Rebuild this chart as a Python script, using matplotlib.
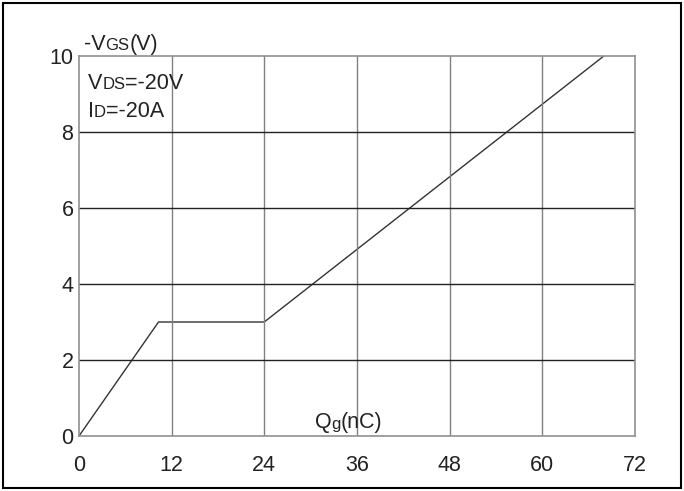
import matplotlib.pyplot as plt
from matplotlib.patches import Rectangle

plt.rcParams['font.family'] = ['Liberation Sans', 'DejaVu Sans']

# gate charge curve: Qg (nC) vs -VGS (V)
qg = [0, 10.3, 24, 68]
vgs = [0, 3.0, 3.0, 10]

x_ticks = [0, 12, 24, 36, 48, 60, 72]
y_ticks = [0, 2, 4, 6, 8, 10]

fig = plt.figure(figsize=(6.84, 4.91), dpi=100)
ax = fig.add_axes([0.1155, 0.112, 0.8125, 0.774])

ax.plot(qg, vgs, color='#333333', lw=1.0, solid_joinstyle='miter')

ax.set_xlim(0, 72)
ax.set_ylim(0, 10)
ax.set_xticks(x_ticks)
ax.set_yticks(y_ticks)
ax.tick_params(length=0, labelsize=15.5, colors='#222222')
ax.tick_params(axis='x', pad=14)
ax.tick_params(axis='y', pad=4)

for x in x_ticks[1:-1]:
    ax.axvline(x, color='#808080', lw=1.0)
for y in y_ticks[1:-1]:
    ax.axhline(y, color='#222222', lw=1.0)
for s in ax.spines.values():
    s.set_color('#909090')
    s.set_linewidth(1.2)

renderer = fig.canvas.get_renderer()


def mixed(x, y, parts):
    # pieces of text on one baseline, in figure pixels; parts = (text, size, dy)
    for txt, size, dy in parts:
        t = fig.text(x, y + dy, txt, transform=None, fontsize=size,
                     color='#222222', va='baseline', ha='left')
        x += t.get_window_extent(renderer).width


big, small = 15.5, 12
mixed(84, 441, [('-V', big, 0), ('GS', small, 0), ('(V)', big, 0)])
mixed(88, 402, [('V', big, 0), ('DS', small, 0), ('=-20V', big, 0)])
mixed(88, 374, [('I', big, 0), ('D', small, 0), ('=-20A', big, 0)])
mixed(315, 63, [('Q', big, 0), ('g', small, -1), ('(nC)', big, 0)])

# outer frame
fig.patches.append(Rectangle((0.005, 0.006), 0.99, 0.988, transform=fig.transFigure,
                             fill=False, edgecolor='black', lw=1.5))

fig.savefig('out.png', dpi=100)
